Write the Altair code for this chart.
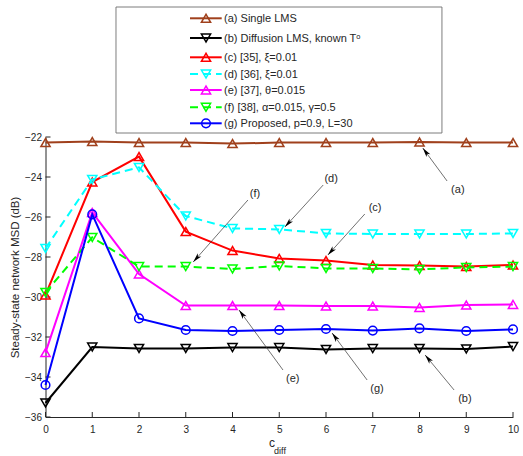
import math
import altair as alt
import pandas as pd

# ---------------- data ----------------
c_diff = [0, 1, 2, 3, 4, 5, 6, 7, 8, 9, 10]
series_ids = ["a", "b", "c", "d", "e", "f", "g"]
legend_labels = [
    "(a) Single LMS",
    "(b) Diffusion LMS, known Tᵒ",
    "(c) [35], ξ=0.01",
    "(d) [36], ξ=0.01",
    "(e) [37], θ=0.015",
    "(f) [38], α=0.015, γ=0.5",
    "(g) Proposed, p=0.9, L=30",
]
msd_a = [-22.28, -22.23, -22.28, -22.28, -22.33, -22.28, -22.28, -22.28, -22.25, -22.28, -22.28]
msd_b = [-35.3, -32.5, -32.57, -32.57, -32.53, -32.53, -32.62, -32.58, -32.57, -32.6, -32.48]
msd_c = [-29.9, -24.25, -22.98, -26.73, -27.68, -28.07, -28.18, -28.4, -28.43, -28.48, -28.4]
msd_d = [-27.57, -24.12, -23.52, -25.95, -26.57, -26.62, -26.82, -26.85, -26.85, -26.85, -26.82]
msd_e = [-32.78, -25.77, -28.85, -30.43, -30.43, -30.43, -30.45, -30.45, -30.52, -30.4, -30.37]
msd_f = [-29.77, -27.02, -28.48, -28.48, -28.6, -28.45, -28.57, -28.57, -28.62, -28.52, -28.48]
msd_g = [-34.4, -25.87, -31.07, -31.65, -31.7, -31.65, -31.6, -31.68, -31.57, -31.7, -31.62]
all_msd = [msd_a, msd_b, msd_c, msd_d, msd_e, msd_f, msd_g]

y_ticks = [-36, -34, -32, -30, -28, -26, -24, -22]
x_ticks = c_diff

ann_labels = ["(a)", "(b)", "(c)", "(d)", "(e)", "(f)", "(g)"]

# ---------------- styles / positions ----------------
series_colors = ["#a0401c", "#000000", "#ff0000", "#00ffff", "#ff00ff", "#00ff00", "#0000ff"]
series_shapes = ["triangle-up", "triangle-down", "triangle-up", "triangle-down",
                 "triangle-up", "triangle-down", "circle"]
series_dashed = [False, False, False, True, False, True, False]

# annotation geometry (data coordinates)
ann_text_x = [8.82, 8.97, 7.05, 6.11, 5.29, 4.48, 7.09]
ann_text_y = [-24.65, -35.1, -25.55, -24.1, -34.1, -24.85, -34.6]
ann_start_x = [8.59, 8.74, 6.83, 5.94, 5.08, 4.33, 6.88]
ann_start_y = [-24.2, -34.65, -25.85, -24.4, -33.65, -25.15, -34.15]
ann_tip_x = [8.07, 8.12, 6.04, 5.12, 4.14, 3.16, 6.13]
ann_tip_y = [-22.55, -32.9, -27.9, -26.5, -30.65, -28.25, -31.8]

# legend geometry (data coordinates)
leg_box = dict(x=1.508, x2=8.48, y=-15.5, y2=-21.8)
leg_rows_y = [-16.065, -17.05, -18.015, -18.85, -19.65, -20.515, -21.315]
leg_line_x = (3.091, 3.769)
leg_mark_x = 3.433
leg_text_x = 3.82

W, H = 467.5, 280.0
X_DOM, Y_DOM = [0, 10], [-36, -22]
PX_X = W / (X_DOM[1] - X_DOM[0])
PX_Y = H / (Y_DOM[1] - Y_DOM[0])

FONT = "Liberation Sans"
TXT = "#262626"

xs = alt.Scale(domain=X_DOM, nice=False, zero=False)
ys = alt.Scale(domain=Y_DOM, nice=False, zero=False)

AX = alt.Axis(values=x_ticks, ticks=False, grid=False, domainColor="#262626", domainWidth=1,
              labelFont=FONT, labelFontSize=10, labelColor=TXT, labelPadding=7, title=None,
              labelFlush=False, labelOverlap=False)
AY = alt.Axis(values=y_ticks, ticks=False, grid=False, domainColor="#262626", domainWidth=1,
              labelFont=FONT, labelFontSize=10, labelColor=TXT, labelPadding=4,
              title="Steady-state network MSD (dB)", titleFont=FONT, titleFontSize=11.5,
              titleFontWeight="normal", titleColor=TXT, titlePadding=4, labelFlush=False,
              labelOverlap=False)


def X(f):
    return alt.X(f, scale=xs, axis=AX)


def Y(f):
    return alt.Y(f, scale=ys, axis=AY)


layers = []

tick_len = 5.0
ytick_df = pd.DataFrame({"y": y_ticks, "x0": 0.0, "x1": tick_len / PX_X})
layers.append(alt.Chart(ytick_df).mark_rule(color="#262626", strokeWidth=1).encode(
    x=X("x0:Q"), x2="x1:Q", y=Y("y:Q")))
xtick_df = pd.DataFrame({"x": x_ticks, "y0": -36.0, "y1": -36.0 + tick_len / PX_Y})
layers.append(alt.Chart(xtick_df).mark_rule(color="#262626", strokeWidth=1).encode(
    x=X("x:Q"), y=Y("y0:Q"), y2="y1:Q"))

# series
for sid, vals, col, shp, dsh in zip(series_ids, all_msd, series_colors, series_shapes, series_dashed):
    df = pd.DataFrame({"c": c_diff, "msd": vals})
    lkw = dict(color=col, strokeWidth=2)
    if dsh:
        lkw["strokeDash"] = [8, 5]
    layers.append(alt.Chart(df).mark_line(**lkw).encode(x=X("c:Q"), y=Y("msd:Q")))
    layers.append(alt.Chart(df).mark_point(shape=shp, filled=False, color=col, strokeWidth=1.5,
                                           size=85 if shp != "circle" else 75, opacity=1).encode(
        x=X("c:Q"), y=Y("msd:Q")))

# annotations: arrows
head_len = 9.5
hx, hy, ang = [], [], []
for sx, sy, tx, ty in zip(ann_start_x, ann_start_y, ann_tip_x, ann_tip_y):
    dxp = (tx - sx) * PX_X
    dyp = (ty - sy) * PX_Y
    L = math.hypot(dxp, dyp)
    ux, uy = dxp / L, dyp / L
    hx.append(tx - ux * head_len / 2 / PX_X)
    hy.append(ty - uy * head_len / 2 / PX_Y)
    ang.append(math.degrees(math.atan2(dxp, dyp)) % 360)

ann_df = pd.DataFrame({
    "label": ann_labels, "tx": ann_text_x, "ty": ann_text_y,
    "sx": ann_start_x, "sy": ann_start_y, "ex": ann_tip_x, "ey": ann_tip_y,
    "hx": hx, "hy": hy, "ang": ang,
})
layers.append(alt.Chart(ann_df).mark_rule(color="#333333", strokeWidth=0.7).encode(
    x=X("sx:Q"), y=Y("sy:Q"), x2="ex:Q", y2="ey:Q"))
layers.append(alt.Chart(ann_df).mark_point(
    shape="M0,-1L0.5,1L0,0.5L-0.5,1Z", filled=True, color="#000000", size=head_len ** 2, opacity=1
).encode(x=X("hx:Q"), y=Y("hy:Q"), angle=alt.Angle("ang:Q", scale=None)))
layers.append(alt.Chart(ann_df).mark_text(font=FONT, fontSize=11, color=TXT, align="center",
                                          baseline="middle").encode(
    x=X("tx:Q"), y=Y("ty:Q"), text="label:N"))

# x-axis title c_diff
xt_df = pd.DataFrame({"t": ["c"], "x": [4.909], "y": [-37.485]})
layers.append(alt.Chart(xt_df).mark_text(font=FONT, fontSize=12, color=TXT, align="right",
                                         baseline="alphabetic").encode(
    x=X("x:Q"), y=Y("y:Q"), text="t:N"))
xs_df = pd.DataFrame({"t": ["diff"], "x": [4.89], "y": [-37.865]})
layers.append(alt.Chart(xs_df).mark_text(font=FONT, fontSize=9, color=TXT, align="left",
                                         baseline="alphabetic").encode(
    x=X("x:Q"), y=Y("y:Q"), text="t:N"))

# legend
box_df = pd.DataFrame([leg_box])
layers.append(alt.Chart(box_df).mark_rect(fill="white", stroke="#6e6e6e", strokeWidth=0.9).encode(
    x=X("x:Q"), x2="x2:Q", y=Y("y:Q"), y2="y2:Q"))
for lab, ry, col, shp, dsh in zip(legend_labels, leg_rows_y, series_colors, series_shapes, series_dashed):
    ldf = pd.DataFrame({"x0": [leg_line_x[0]], "x1": [leg_line_x[1]], "y": [ry],
                        "mx": [leg_mark_x], "tx": [leg_text_x], "label": [lab]})
    rkw = dict(color=col, strokeWidth=2)
    if dsh:
        rkw["strokeDash"] = [8, 5]
    layers.append(alt.Chart(ldf).mark_rule(**rkw).encode(x=X("x0:Q"), x2="x1:Q", y=Y("y:Q")))
    layers.append(alt.Chart(ldf).mark_point(shape=shp, filled=False, color=col, strokeWidth=1.5,
                                            size=85 if shp != "circle" else 75, opacity=1).encode(
        x=X("mx:Q"), y=Y("y:Q")))
    layers.append(alt.Chart(ldf).mark_text(font=FONT, fontSize=11, color=TXT, align="left",
                                           baseline="middle", dy=1).encode(
        x=X("tx:Q"), y=Y("y:Q"), text="label:N"))

chart = alt.layer(*layers).properties(
    width=W, height=H,
    padding={"left": 45.5, "top": 137, "right": 10, "bottom": 39},
    autosize=alt.AutoSizeParams(type="none"),
    background="white",
).configure_view(stroke=None).configure_axis(labelOverlap=False)

chart.save("out.html", embed_options={"renderer": "svg", "actions": False})
